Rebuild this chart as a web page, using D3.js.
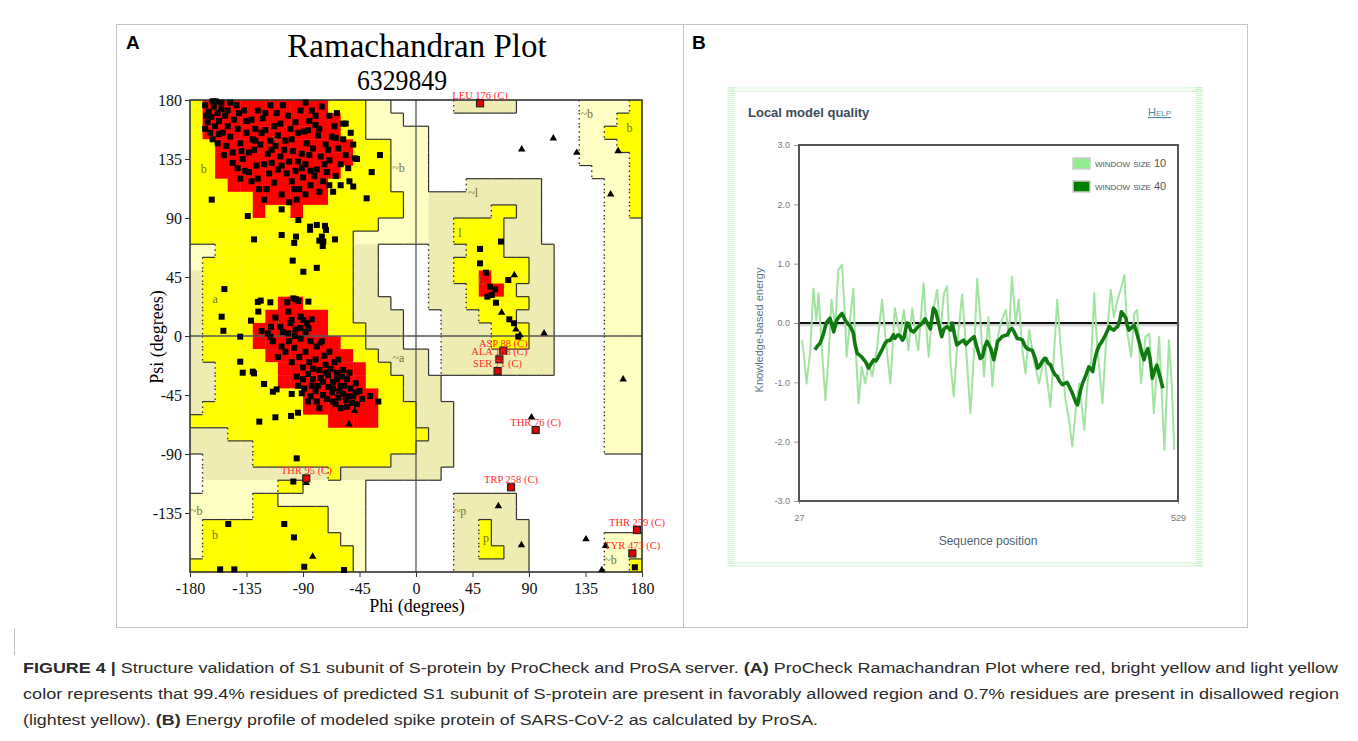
<!DOCTYPE html>
<html>
<head>
<meta charset="utf-8">
<script src="https://cdn.jsdelivr.net/npm/d3@7"></script>
<style>
  body { margin: 0; background: #fff; }
  svg { display: block; }
</style>
</head>
<body>
<svg id="fig" width="1358" height="741"></svg>
<script>
// ---------- panel A : Ramachandran plot ----------
// 10 x 10 degree region map, rows from psi 180 down, cols from phi -180 right
// R core, Y allowed, K / P generous (two tints), . disallowed
var regionRows = [
  "YRRRRRRRRRRYYYPP.." + "...KKKKK.....PPPPY",
  "YRRRRRRRRRRRYYPPP." + ".............PPPYY",
  "YRRRRRRRRRRRYYPPPP" + "P............PPYYY",
  "YYRRRRRRRRRRRYYYPP" + "P............PPPYY",
  "YYRRRRRRRRRRRYYYPP" + "P............PPPPY",
  "YYRRRRRRRRRRYYYYPP" + "P.............PPPY",
  "YYYRRRRRRRRYYYYYPP" + "P...KKKKKK.....PPY",
  "YYYYYRRRRRRYYYYYYP" + "PKKKKKKKKK.....PPY",
  "YYYYYRYYRYYYYYYYYP" + "PKKKKKYYKK.....PPY",
  "YYYYYYYYYYYYYYYPPP" + "PKKYYYYKKK.....PPP",
  "YYYYYYYYYYYYYPPPPP" + "PKKYYYYKKK.....PPP",
  "PPYYYYYYYYYYYKK..." + ".KKKYYYKKKK....PPP",
  "PYYYYYYYYYYYYKK..." + ".KKYYYYYYKK....PPP",
  "KYYYYYYYYYYYYKK..." + ".KKYYRYYYKK....PPP",
  "KYYYYYYYYYYYYKK..." + ".KKKYRRYKKK....PPP",
  "KYYYYYYRRYYYYKKK.." + ".KKKYYYYYKK....PPP",
  "KYYYYYRRRRRYYKKKK." + "..KKKYYYKKK....PPP",
  "KYYYYRRRRRRYYYKKK." + "..KKKKYYYKK....PPP",
  "KYYYYRRRRRRRYYKKK." + "..KKKKYYYKK....PPP",
  "KYYYYYRRRRRRRYYKKK" + "K.KKKKKKKKK....PPP",
  "KKYYYYYRRRRRRRYYKK" + "K.KKKKKKKKK....PPP",
  "KKYYYYYRRRRRRRYYYK" + "KK.............PPP",
  "KKYYYYYYYRRRRRRYYK" + "KK.............PPP",
  "KYYYYYYYYRRRRRRYYY" + "KKK............PPP",
  "YYYYYYYYYYYRRRRYYY" + "KKK............PPP",
  "KKKYYYYYYYYYYYYYYY" + "YKK............PPP",
  "KKKKKYYYYYYYYYYYYY" + "KKK............PPP",
  ".KKKKYYYYYYYYYYYKK" + "KKK...............",
  ".KKKKKKKKKKYKKKKKK" + "KK................",
  ".PPPPPPYYPPPPP...." + "..................",
  "PPPPPYYPPPPPPP...." + "...KKKKK..........",
  "PPPPPYYYYYYPPP...." + "...KKKKK..........",
  "PYYYYYYYYYYPPP...." + "...KKYKKK.........",
  "PYYYYYYYYYYYPP...." + "...KKYKKK......PPP",
  "PYYYYYYYYYYYYP...." + "...KKYYKK......PPP",
  "YYYYYYYYYYYYYP...." + "...KKKKKK......PPY"
];

var phiTicks = [-180, -135, -90, -45, 0, 45, 90, 135, 180];
var psiTicks = [180, 135, 90, 45, 0, -45, -90, -135];

// residues in the beta region [phi, psi]
var betaPts = [[-168,176],[-165,171],[-163,167],[-166,163],[-161,175],[-158,170],[-168,158],[-164,155],[-160,160],[-157,164],
  [-155,173],[-152,168],[-162,150],[-158,147],[-154,155],[-150,160],[-148,152],[-151,145],[-145,165],[-142,158],
  [-146,140],[-140,147],[-138,135],[-142,128],[-136,126],[-133,140],[-130,150],[-128,158],[-131,165],[-126,172],
  [-122,166],[-120,157],[-124,146],[-118,139],[-121,131],[-126,120],[-117,124],[-113,117],[-115,132],[-112,145],
  [-110,153],[-108,162],[-111,170],[-106,176],[-102,168],[-100,158],[-104,149],[-98,141],[-101,133],[-96,126],
  [-99,118],[-93,112],[-95,104],[-90,121],[-88,131],[-91,139],[-87,147],[-89,156],[-85,164],[-83,172],
  [-80,161],[-78,153],[-82,143],[-76,137],[-79,127],[-74,118],[-77,110],[-71,125],[-69,134],[-72,146],
  [-67,152],[-65,160],[-69,168],[-62,143],[-60,131],[-64,122],[-58,150],[-56,138],[-54,128],[-60,115],
  [-66,110],[-84,115],[-107,108],[-119,112],[-131,118],[-140,120],[-146,132],[-153,138],[-135,155],[-127,130],
  [-113,160],[-96,163],[-92,172],[-75,175],[-88,178],[-116,176],[-137,172],[-148,178],[-143,176],[-99,150],
  [-94,155],[-85,138],[-81,122],[-103,124],[-108,137],[-116,149],[-123,155],[-129,142],[-139,141],[-73,131],
  [-70,142],[-63,170],[-58,162],[-52,155],[-50,146],[-47,135],[-53,118],[-110,127],[-91,128],[-86,157],
  [-80,168],[-105,142],[-120,170],[-133,125],[-157,154],[-167,168],[-162,179],[-155,178],[-150,172],[-97,112],
  [-101,102],[-88,108],[-121,104],[-125,112],[-69,115],[-77,158],[-64,151],[-94,133],[-84,126],[-107,130],
  [-115,142],[-128,149],[-135,164],[-141,170]];

// residues in the alpha region [phi, psi]
var alphaPts = [[-85,-20],[-80,-18],[-77,-26],[-72,-22],[-70,-30],[-66,-35],[-63,-28],[-60,-38],[-58,-44],[-55,-33],
  [-52,-40],[-50,-46],[-48,-36],[-56,-49],[-62,-47],[-67,-43],[-70,-39],[-74,-45],[-78,-38],[-82,-33],
  [-86,-29],[-90,-24],[-93,-16],[-97,-9],[-101,-4],[-104,-12],[-99,-20],[-95,-31],[-89,-40],[-84,-46],
  [-79,-50],[-64,-52],[-59,-31],[-53,-28],[-45,-42],[-43,-48],[-47,-52],[-68,-25],[-73,-15],[-79,-8],
  [-84,-4],[-88,-12],[-92,-2],[-96,5],[-100,10],[-107,-8],[-110,-16],[-114,-4],[-118,2],[-82,-25],
  [-76,-32],[-71,-48],[-66,-50],[-61,-42],[-57,-38],[-54,-46],[-51,-51],[-58,-26],[-65,-20],[-69,-12],
  [-62,-18],[-75,-4],[-90,-33],[-94,-38],[-86,-50],[-80,-42],[-74,-35],[-77,-55],[-60,-55],[-55,-54],
  [-48,-43],[-106,3],[-112,14],[-92,6],[-88,3],[-72,-28],[-66,-40],[-83,-38],[-63,-33]];

// scattered residues [phi, psi]
var loosePts = [[-28.7,138],[-35.3,125],[-39.3,105],[-56,162],[-48.6,135.5],[-50,114],[-162.7,104],[-134,91.5],
  [-129,73.7],[-107,96.6],[-107,77],[-93.7,88.5],[-95.6,75.8],[-97,71],[-84.4,83.4],[-84.4,81],[-79,84.7],
  [-72.5,84],[-71.7,80.9],[-75,75.8],[-73.8,72],[-77,72.7],[-74.3,68.6],[-64.5,73.7],[-98.2,57.5],[-89.7,49],
  [-79,52],[-152.6,35.8],[-154.8,14.7],[-153.4,4],[-140,-0.5],[-159.5,179],
  [-126,26],[-123.7,27],[-116,25.7],[-125.6,18.6],[-102.5,25.7],[-97.7,28.7],[-95.6,28],[-93.7,26.7],
  [-85.7,26.2],[-131.4,11.7],[-123,3.8],[-115.5,7],[-108,7],[-101.7,18.6],[-99,12.2],[-91.8,14.7],[-89.7,12.2],
  [-87,9.7],[-85.7,5.8],[-83,12.7],[-101.7,2],[-96.4,0],[-116,-0.5],
  [-140,-19.6],[-138,-28],[-130,-27.2],[-129,-28.5],[-121,-36.6],[-114,-42.5],[-111,-40.7],[-99,-44.2],
  [-99.5,-61],[-94,-58.5],[-112,-62],[-124.8,-65.3],[-95,-93.3],[-97.7,-111],[-91,-43.7],[-36.6,-45.8],
  [-30,-50],[-149.5,-143.4],[-104.9,-143.4],[-97.2,-153.6],[-89,-176],[-57.3,-178.5],[-144.7,-178],[-156,-178],
  [51,66.4],[67.7,72],[51,55.4],[55.8,48.3],[73.5,42.7],[59,37.6],[63,35.6],[56.8,30],[60.3,31.3],
  [63.7,25.4],[74.3,12.7],[78,9.7],[81.5,-0.5],[174.3,-176.4]];

// glycines (triangles) [phi, psi]
var glyPts = [[109.4,150.8],[84.2,142.4],[128,139.8],[161,141],[155,108],[78.3,46.5],[68.2,17.8],[79.6,5],
  [102,2],[82.8,0.7],[165,-33],[92,-62],[65.6,-129.7],[84,-159.4],[135.4,-155],[151,-160],[148,-178.5],
  [-77,-5.6],[-49,-57],[-53.4,-67.4],[-87.4,-112],[-82.3,-168.3]];

// residues flagged in disallowed / generous regions
var flagNames = ["LEU 176 (C)", "ASP 88 (C)", "ALA 163 (C)", "SER 71 (C)", "THR 76 (C)",
                 "TRP 258 (C)", "THR 259 (C)", "TYR 473 (C)", "THR 95 (C)"];
var flagPhi = [51, 69.5, 66.4, 65, 95.3, 75.7, 176, 172.3, -87.4];
var flagPsi = [177.5, -11.2, -17.8, -26.7, -71.7, -115.4, -148, -165.8, -108.6];

// region letters
var regLabels = ["b", "a", "A", "B", "~b", "~a", "~b", "b", "~l", "l", "L", "~b", "b", "~p", "p", "~b"];
var regLabPhi = [-169, -160, -110, -112, -14, -14, -175, -160, 45.6, 35, 52, 136, 170, 35, 55.7, 155];
var regLabPsi = [128, 28.7, 9.7, 150, 129, -15.8, -133, -151, 110, 79.6, 43, 170, 159.6, -132.7, -153, -170];

// ---------- panel B : ProSA energy profile ----------
var win10Pos = [31,34,37,42,46,50,53,56,59,62,66,70,75,79,84,88,90,95,99,101,106,110,115,119,124,130,137,141,148,152,
  154,161,166,172,177,181,185,192,197,199,203,210,214,219,223,228,232,236,243,247,254,259,263,267,272,278,283,287,294,
  301,305,309,314,318,323,327,332,338,345,352,356,360,365,369,374,380,384,389,394,398,405,409,414,418,422,429,433,440,
  444,449,453,458,462,467,471,475,480,486,491,497,504,511,517,521,524];
var win10Energy = [-0.29,-0.6,-1.02,-0.46,0.58,0.05,0.5,-0.2,-0.74,-1.3,-0.6,0.39,-0.06,0.89,0.98,0.1,-0.57,0.1,0.58,-0.18,
  -1.35,-0.74,-1.02,-0.68,-0.9,-0.46,0.39,-0.18,-1.02,-0.18,0.25,-0.23,0.22,-0.46,0.25,-0.18,-0.46,0.67,-0.29,-0.57,
  0.1,0.56,-0.18,0.5,0.62,-0.74,-1.24,-0.46,0.48,-0.18,-1.52,-0.46,0.75,0.1,-0.9,0.1,-1.07,-0.46,-0.01,
  0.22,-0.23,0.78,0.0,0.39,-0.46,-0.85,-0.12,-0.63,-1.02,-0.57,-1.0,-1.41,-0.46,0.39,-0.46,-1.3,-1.58,-2.08,-1.41,
  -1.02,-1.8,-1.02,-0.63,0.5,-0.4,-1.35,-0.46,0.56,0.1,0.39,0.56,0.81,-0.18,-0.57,0.16,0.22,-1.02,-0.23,-0.18,
  -1.52,-0.23,-2.14,-0.29,-1.1,-2.14];

var win40Pos = [48,52,55,59,62,64,68,71,73,77,81,84,88,91,95,99,101,104,108,110,113,115,119,122,126,129,132,135,137,141,
  144,148,152,154,158,161,164,166,170,172,175,179,183,185,189,194,197,201,205,208,212,216,219,223,228,230,233,236,240,
  245,248,252,256,259,262,265,267,270,273,276,281,285,288,290,294,296,300,303,306,309,312,316,320,323,326,329,333,336,
  340,343,345,349,352,354,357,360,363,366,369,372,376,379,382,385,388,391,394,396,398,400,403,407,411,414,416,419,422,
  425,427,430,433,436,438,441,444,447,449,452,454,457,460,462,464,467,471,474,478,481,484,486,489,492,495,498,501,504,
  507,509];
var win40Energy = [-0.45,-0.38,-0.34,-0.2,-0.05,0.02,0.08,-0.05,-0.15,0.05,0.12,0.16,0.05,0.0,-0.06,-0.17,-0.35,-0.51,
  -0.55,-0.57,-0.62,-0.65,-0.76,-0.7,-0.62,-0.64,-0.57,-0.5,-0.45,-0.34,-0.3,-0.29,-0.2,-0.26,-0.2,-0.22,-0.29,-0.25,
  0.0,-0.01,-0.12,-0.15,-0.09,-0.06,-0.02,0.07,0.0,-0.1,0.25,0.2,-0.01,-0.23,-0.1,-0.06,-0.12,0.0,-0.2,-0.37,-0.33,
  -0.29,-0.36,-0.31,-0.26,-0.23,-0.38,-0.51,-0.6,-0.57,-0.4,-0.31,-0.43,-0.62,-0.45,-0.31,-0.26,-0.23,-0.21,-0.2,
  -0.12,-0.09,-0.15,-0.26,-0.27,-0.29,-0.38,-0.43,-0.45,-0.46,-0.6,-0.76,-0.74,-0.65,-0.6,-0.6,-0.68,-0.7,-0.8,-0.87,
  -0.9,-0.98,-1.04,-1.02,-1.0,-1.07,-1.15,-1.25,-1.35,-1.38,-1.25,-1.13,-1.0,-0.88,-0.74,-0.78,-0.82,-0.6,-0.46,
  -0.37,-0.34,-0.27,-0.2,-0.12,-0.06,-0.1,-0.12,-0.08,-0.06,0.05,0.19,0.14,0.08,-0.05,-0.12,-0.08,-0.04,-0.15,-0.34,
  -0.5,-0.62,-0.52,-0.43,-0.6,-0.93,-0.8,-0.71,-0.85,-1.0,-1.1];

var energyTicks = [3, 2, 1, 0, -1, -2, -3];
var seqTicks = [27, 529];
var legendLabels = ["window size 10", "window size 40"];

var captionLines = [
  [["FIGURE 4 |", true], [" Structure validation of S1 subunit of S-protein by ProCheck and ProSA server. ", false],
   ["(A)", true], [" ProCheck Ramachandran Plot where red, bright yellow and light yellow", false]],
  [["color represents that 99.4% residues of predicted S1 subunit of S-protein are present in favorably allowed region and 0.7% residues are present in disallowed region", false]],
  [["(lightest yellow). ", false], ["(B)", true], [" Energy profile of modeled spike protein of SARS-CoV-2 as calculated by ProSA.", false]]
];

// =====================================================================
var svg = d3.select("#fig");
var serif = "'Liberation Serif', 'Times New Roman', serif";
var sans = "'Liberation Sans', Arial, sans-serif";

// figure frame + divider
svg.append("rect").attr("x", 116.5).attr("y", 24.5).attr("width", 1131).attr("height", 603)
    .attr("fill", "none").attr("stroke", "#c4c4c4");
svg.append("line").attr("x1", 683.5).attr("x2", 683.5).attr("y1", 25).attr("y2", 627)
    .attr("stroke", "#c4c4c4");

svg.append("text").attr("x", 126).attr("y", 49).text("A")
    .style("font-family", sans).style("font-weight", "bold").style("font-size", "19px");
svg.append("text").attr("x", 692).attr("y", 49).text("B")
    .style("font-family", sans).style("font-weight", "bold").style("font-size", "19px");

// ---------- Ramachandran ----------
var xr = d3.scaleLinear().domain([-180, 180]).range([190, 642]);
var yr = d3.scaleLinear().domain([-180, 180]).range([572, 100]);

var fills = { R: "#ff0000", Y: "#ffff00", K: "#eeecb2", P: "#ffffc4" };
var rank = { R: 2, Y: 2, K: 1, P: 1, ".": 0 };

var cells = [];
regionRows.forEach(function(row, r) {
    row.split("").forEach(function(code, c) {
        cells.push({ r: r, c: c, code: code, phi: -180 + 10 * c, psi: 180 - 10 * r });
    });
});

var gA = svg.append("g");
gA.append("g").selectAll("rect")
    .data(cells.filter(function(d) { return d.code !== "."; }))
    .enter().append("rect")
        .attr("x", function(d) { return xr(d.phi); })
        .attr("y", function(d) { return yr(d.psi); })
        .attr("width", function(d) { return xr(d.phi + 10) - xr(d.phi) + 0.4; })
        .attr("height", function(d) { return yr(d.psi - 10) - yr(d.psi) + 0.4; })
        .attr("fill", function(d) { return fills[d.code]; });

// outlines between region classes
var edges = [];
cells.forEach(function(d) {
    var k = rank[d.code];
    if (d.c < 35) {
        var kr = rank[regionRows[d.r][d.c + 1]];
        if (k !== kr) edges.push({ x1: d.phi + 10, x2: d.phi + 10, y1: d.psi, y2: d.psi - 10, solid: k > kr });
    }
    if (d.r < 35) {
        var kb = rank[regionRows[d.r + 1][d.c]];
        if (k !== kb) edges.push({ x1: d.phi, x2: d.phi + 10, y1: d.psi - 10, y2: d.psi - 10, solid: true });
    }
});
gA.append("g").selectAll("line")
    .data(edges)
    .enter().append("line")
        .attr("x1", function(d) { return xr(d.x1); })
        .attr("x2", function(d) { return xr(d.x2); })
        .attr("y1", function(d) { return yr(d.y1); })
        .attr("y2", function(d) { return yr(d.y2); })
        .attr("stroke", "#333")
        .attr("stroke-width", function(d) { return d.solid ? 1.2 : 1.4; })
        .attr("stroke-dasharray", function(d) { return d.solid ? null : "1.5,3.5"; });

// zero lines + frame
gA.append("line").attr("x1", xr(0)).attr("x2", xr(0)).attr("y1", yr(180)).attr("y2", yr(-180))
    .attr("stroke", "#555").attr("stroke-width", 1.3);
gA.append("line").attr("x1", xr(-180)).attr("x2", xr(180)).attr("y1", yr(0)).attr("y2", yr(0))
    .attr("stroke", "#555").attr("stroke-width", 1.3);
gA.append("rect").attr("x", xr(-180)).attr("y", yr(180))
    .attr("width", xr(180) - xr(-180)).attr("height", yr(-180) - yr(180))
    .attr("fill", "none").attr("stroke", "#333").attr("stroke-width", 1.6);

// region letters
gA.append("g").selectAll("text")
    .data(regLabels)
    .enter().append("text")
        .attr("x", function(d, i) { return xr(regLabPhi[i]); })
        .attr("y", function(d, i) { return yr(regLabPsi[i]) + 5; })
        .attr("text-anchor", "middle")
        .style("font-family", serif).style("font-size", "12px").style("fill", "#77702a")
        .text(function(d) { return d; });

// residues
var sq = 6;
var allSquares = betaPts.concat(alphaPts, loosePts);
gA.append("g").selectAll("rect")
    .data(allSquares)
    .enter().append("rect")
        .attr("x", function(d) { return xr(d[0]) - sq / 2; })
        .attr("y", function(d) { return yr(d[1]) - sq / 2; })
        .attr("width", sq).attr("height", sq)
        .attr("fill", "#000");

gA.append("g").selectAll("path")
    .data(glyPts)
    .enter().append("path")
        .attr("d", d3.symbol().type(d3.symbolTriangle).size(24))
        .attr("transform", function(d) { return "translate(" + xr(d[0]) + "," + yr(d[1]) + ")"; })
        .attr("fill", "#000");

var flags = flagNames.map(function(n, i) { return { name: n, phi: flagPhi[i], psi: flagPsi[i] }; });
gA.append("g").selectAll("rect")
    .data(flags)
    .enter().append("rect")
        .attr("x", function(d) { return xr(d.phi) - 3.5; })
        .attr("y", function(d) { return yr(d.psi) - 3.5; })
        .attr("width", 7).attr("height", 7)
        .attr("fill", "#e00000").attr("stroke", "#222").attr("stroke-width", 1.2);
gA.append("g").selectAll("text")
    .data(flags)
    .enter().append("text")
        .attr("x", function(d) { return xr(d.phi); })
        .attr("y", function(d) { return yr(d.psi) - 4; })
        .attr("text-anchor", "middle")
        .style("font-family", serif).style("font-size", "10.5px").style("fill", "#ff2a2a")
        .text(function(d) { return d.name; });

// axes (hyphen minus like the original)
var plain = function(d) { return String(d); };
var axL = gA.append("g").attr("transform", "translate(" + xr(-180) + ",0)")
    .call(d3.axisLeft(yr).tickValues(psiTicks).tickFormat(plain).tickSize(5).tickPadding(3));
var axB = gA.append("g").attr("transform", "translate(0," + yr(-180) + ")")
    .call(d3.axisBottom(xr).tickValues(phiTicks).tickFormat(plain).tickSize(5).tickPadding(6));
[axL, axB].forEach(function(a) {
    a.select(".domain").remove();
    a.selectAll("line").attr("stroke", "#333");
    a.selectAll("text").style("font-family", serif).style("font-size", "16px").attr("fill", "#111");
});

gA.append("text").attr("x", 417).attr("y", 57).attr("text-anchor", "middle")
    .style("font-family", serif).style("font-size", "33px").text("Ramachandran Plot");
gA.append("text").attr("x", 402).attr("y", 90).attr("text-anchor", "middle")
    .attr("textLength", 90).attr("lengthAdjust", "spacingAndGlyphs")
    .style("font-family", serif).style("font-size", "30px").text("6329849");
gA.append("text").attr("x", 417).attr("y", 612).attr("text-anchor", "middle")
    .style("font-family", serif).style("font-size", "18px").text("Phi (degrees)");
gA.append("text").attr("transform", "translate(163,337) rotate(-90)").attr("text-anchor", "middle")
    .style("font-family", serif).style("font-size", "18px").text("Psi (degrees)");

// ---------- ProSA panel ----------
var gB = svg.append("g");
var frameCol = "#cdf3cd";
[731, 1199].forEach(function(x) {
    gB.append("line").attr("x1", x).attr("x2", x).attr("y1", 87).attr("y2", 566)
        .attr("stroke", frameCol).attr("stroke-width", 7).attr("stroke-dasharray", "1,1");
});
[88, 91, 563, 566].forEach(function(y) {
    gB.append("line").attr("x1", 728).attr("x2", 1203).attr("y1", y).attr("y2", y)
        .attr("stroke", frameCol).attr("stroke-width", 1.2);
});

gB.append("text").attr("x", 748).attr("y", 117)
    .style("font-family", sans).style("font-weight", "bold").style("font-size", "13px")
    .style("fill", "#3c4b58").text("Local model quality");
gB.append("text").attr("x", 1148).attr("y", 116)
    .style("font-family", sans).style("font-size", "11px").style("font-variant", "small-caps")
    .style("fill", "#4a8c9c").style("text-decoration", "underline").text("Help");

var xs = d3.scaleLinear().domain([27, 529]).range([799, 1178]);
var ys = d3.scaleLinear().domain([-3, 3]).range([501, 145]);

var axY = gB.append("g").attr("transform", "translate(799,0)")
    .call(d3.axisLeft(ys).tickValues(energyTicks).tickFormat(function(d) { return d.toFixed(1); })
        .tickSize(5).tickPadding(4));
var axX = gB.append("g").attr("transform", "translate(0,501)")
    .call(d3.axisBottom(xs).tickValues(seqTicks).tickFormat(plain).tickSize(3).tickPadding(11));
[axY, axX].forEach(function(a) {
    a.select(".domain").remove();
    a.selectAll("line").attr("stroke", "#999");
    a.selectAll("text").style("font-family", sans).style("font-size", "9px").attr("fill", "#777");
});

gB.append("text").attr("x", 988).attr("y", 545).attr("text-anchor", "middle")
    .style("font-family", sans).style("font-size", "12px").style("fill", "#4d6470").text("Sequence position");
gB.append("text").attr("transform", "translate(763,330) rotate(-90)").attr("text-anchor", "middle")
    .style("font-family", sans).style("font-size", "11px").style("fill", "#5c7482").text("Knowledge-based energy");

// zero line with soft shadow
gB.append("line").attr("x1", 799).attr("x2", 1178).attr("y1", ys(0) + 2).attr("y2", ys(0) + 2)
    .attr("stroke", "#d6d6d6").attr("stroke-width", 2.5);
gB.append("line").attr("x1", 799).attr("x2", 1178).attr("y1", ys(0)).attr("y2", ys(0))
    .attr("stroke", "#111").attr("stroke-width", 2);

var line = d3.line()
    .x(function(d) { return xs(d[0]); })
    .y(function(d) { return ys(d[1]); });

var win10 = win10Pos.map(function(p, i) { return [p, win10Energy[i]]; });
var win40 = win40Pos.map(function(p, i) { return [p, win40Energy[i]]; });

gB.append("path").datum(win10).attr("d", line)
    .attr("fill", "none").attr("stroke", "#a2e3a2").attr("stroke-width", 2).attr("stroke-linejoin", "round");
gB.append("path").datum(win40).attr("d", line)
    .attr("fill", "none").attr("stroke", "#107a10").attr("stroke-width", 3.6).attr("stroke-linejoin", "round");

gB.append("rect").attr("x", 799).attr("y", 145).attr("width", 379).attr("height", 356)
    .attr("fill", "none").attr("stroke", "#555").attr("stroke-width", 2);

// legend
var legCols = ["#90ee90", "#008000"];
var leg = gB.append("g").selectAll("g")
    .data(legendLabels)
    .enter().append("g")
        .attr("transform", function(d, i) { return "translate(1073," + (158 + i * 23) + ")"; });
leg.append("rect").attr("width", 17).attr("height", 11)
    .attr("fill", function(d, i) { return legCols[i]; })
    .attr("stroke", "#ccc").attr("stroke-width", 1.5);
leg.append("text").attr("x", 22).attr("y", 9)
    .style("font-family", sans).style("font-size", "11px").style("font-variant", "small-caps")
    .style("fill", "#555").text(function(d) { return d; });

// ---------- caption ----------
svg.append("line").attr("x1", 14.5).attr("x2", 14.5).attr("y1", 628).attr("y2", 655).attr("stroke", "#c4c4c4");
var lens = [1315, 1316, 795];
captionLines.forEach(function(parts, i) {
    var t = svg.append("text").attr("x", 23).attr("y", 673 + i * 26)
        .attr("textLength", lens[i]).attr("lengthAdjust", "spacingAndGlyphs")
        .style("font-family", sans).style("font-size", "15.5px").style("fill", "#2b2b2b");
    parts.forEach(function(p) {
        t.append("tspan").style("font-weight", p[1] ? "bold" : "normal").text(p[0]);
    });
});
</script>
</body>
</html>
